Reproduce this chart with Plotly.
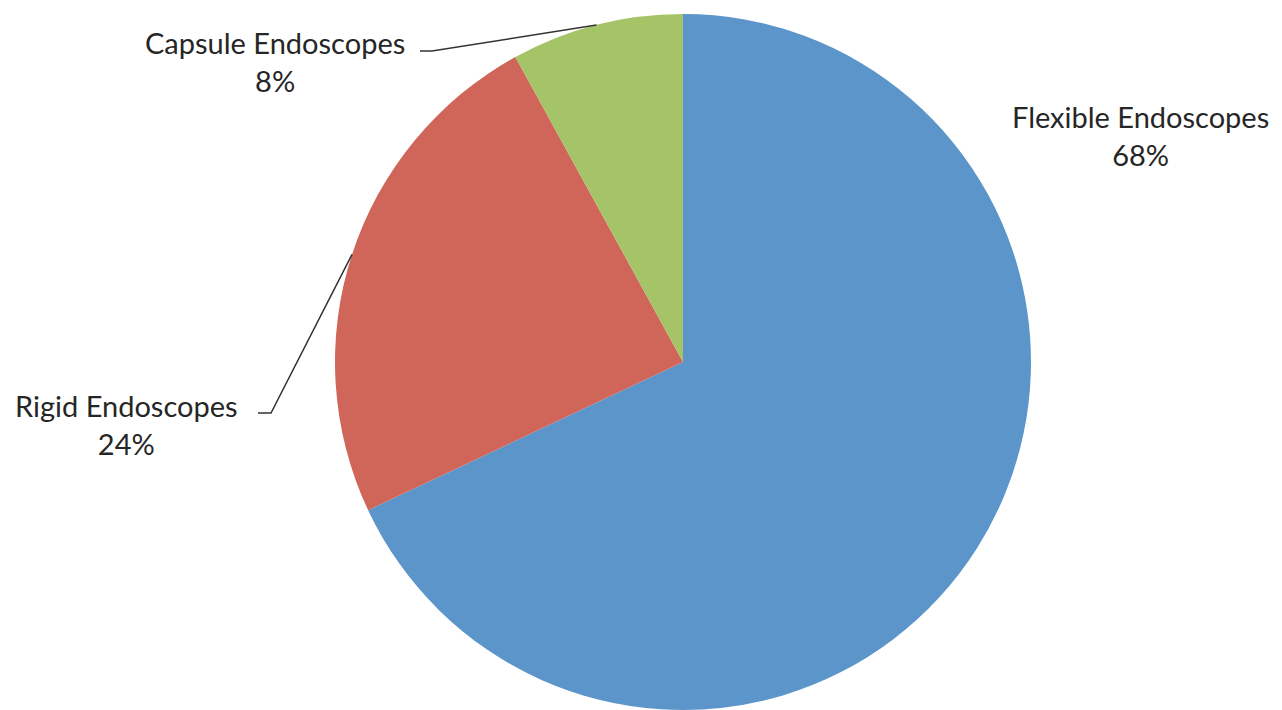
import numpy as np
import plotly.graph_objects as go

labels = ["Flexible Endoscopes", "Rigid Endoscopes", "Capsule Endoscopes"]
values = [68, 24, 8]
colors = ["#5B95C9", "#CF6659", "#A5C467"]

W, H = 1282, 710
OFF = 8  # page body margin
cx, cy, R = 683, 362, 348

def px(x):
    return (x - OFF) / W

def py(y):
    return 1 - (y - OFF) / H

fig = go.Figure(go.Pie(
    labels=labels, values=values, sort=False, direction="clockwise", rotation=0,
    marker=dict(colors=colors, line=dict(width=0)),
    textinfo="none", hoverinfo="label+percent",
    domain=dict(x=[px(cx - R), px(cx + R)], y=[py(cy + R), py(cy - R)]),
    showlegend=False,
))

# slice midpoints (clockwise from 12 o'clock)
tot = sum(values)
cum = np.cumsum([0] + values)
mid = [(cum[i] + values[i] / 2) / tot * 2 * np.pi for i in range(len(values))]
edge = [(cx + R * np.sin(a), cy - R * np.cos(a)) for a in mid]

font = dict(family="Lato", size=29, color="#262626")
label_pos = {
    0: (1140, 136),
    1: (126, 424),
    2: (275, 61),
}
for i, (x, y) in label_pos.items():
    fig.add_annotation(
        x=px(x), y=py(y), xref="paper", yref="paper",
        text=f"{labels[i]}<br>{values[i]}%", showarrow=False,
        font=font, align="center", xanchor="center", yanchor="middle",
    )

# leader lines: elbow from label to slice edge
elbows = {1: (258, 271, 413), 2: (420, 432, 51)}
for i, (x0, x1, y0) in elbows.items():
    ex, ey = edge[i]
    path = f"M {px(x0)} {py(y0)} L {px(x1)} {py(y0)} L {px(ex)} {py(ey)}"
    fig.add_shape(type="path", path=path, xref="paper", yref="paper",
                  line=dict(color="#333333", width=1.5))

fig.update_layout(
    width=W, height=H, margin=dict(l=0, r=0, t=0, b=0),
    paper_bgcolor="white", plot_bgcolor="white",
)
fig.write_html("out.html")
